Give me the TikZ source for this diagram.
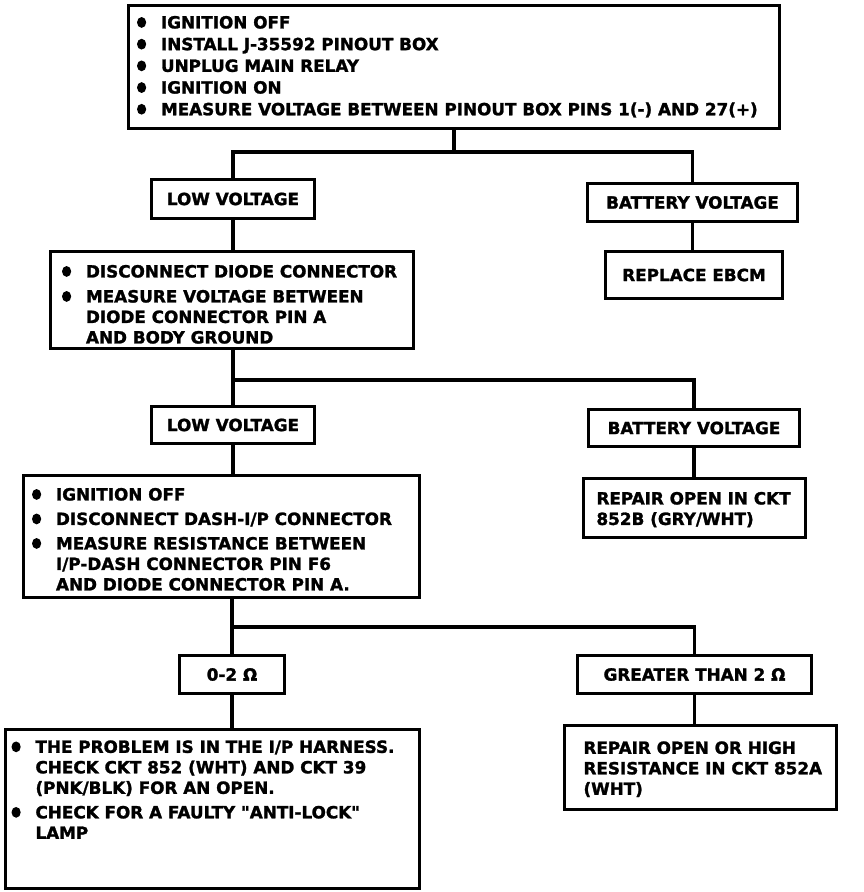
\documentclass[tikz,border=0pt]{standalone}
\usepackage{fontspec}
\setmainfont{DejaVu Sans}[Ligatures=TeXOff, BoldFeatures={FakeBold=1.5}]
\usetikzlibrary{calc}
\newcommand\bul{\makebox[24pt][l]{\tikz[baseline=-6pt]\fill (4.6pt,0pt) ellipse[x radius=4.6pt,y radius=5.4pt];}}
\newcommand\ind{\hspace*{24pt}}
\newcommand\tbox[5]{\parbox[c][#2pt][t]{#1pt}{\vspace*{#3pt}\hspace*{#4pt}\begin{tabular}[t]{@{}l@{}}#5\end{tabular}}}
\begin{document}
\begin{tikzpicture}[x=1pt,y=-1pt,
  bx/.style={draw, line width=3pt, inner sep=0pt, anchor=north west,
    font=\fontsize{16.8}{20.5}\selectfont\bfseries},
  lbl/.style={draw, line width=3pt, inner sep=0pt, anchor=north west, align=center,
    font=\fontsize{16.8}{20.5}\selectfont\bfseries},
  conn/.style={line width=3.5pt}]
\fill[white] (0,0) rectangle (864,892);
\useasboundingbox (0,0) rectangle (864,892);

% boxes
\node[bx] (top) at (127,4) {\tbox{651}{123}{8.6}{8.5}{%
  \bul IGNITION OFF\\[1.2pt]
  \bul INSTALL J-35592 PINOUT BOX\\[1.2pt]
  \bul UNPLUG MAIN RELAY\\[1.2pt]
  \bul IGNITION ON\\[1.2pt]
  \bul MEASURE VOLTAGE BETWEEN PINOUT BOX PINS 1(-) AND 27(+)}};

\node[lbl, minimum width=163pt, minimum height=39pt] (lv1) at (150,178) {LOW VOLTAGE};
\node[lbl, minimum width=210pt, minimum height=38pt] (bv1) at (586,182) {BATTERY VOLTAGE};
\node[lbl, minimum width=177pt, minimum height=47pt] (ebcm) at (604,250) {REPLACE EBCM};

\node[bx] (box2) at (49,250) {\tbox{363}{97}{11.6}{11.5}{%
  \bul DISCONNECT DIODE CONNECTOR\\[4.5pt]
  \bul MEASURE VOLTAGE BETWEEN\\
  \ind DIODE CONNECTOR PIN A\\
  \ind AND BODY GROUND}};

\node[lbl, minimum width=163pt, minimum height=37pt] (lv2) at (150,405) {LOW VOLTAGE};
\node[lbl, minimum width=211pt, minimum height=37pt] (bv2) at (587,408) {BATTERY VOLTAGE};

\node[bx] (rep1) at (582,477) {\tbox{222}{59}{11.6}{13}{%
  REPAIR OPEN IN CKT\\
  852B (GRY/WHT)}};

\node[bx] (box3) at (22,474) {\tbox{396}{122}{10.6}{8.5}{%
  \bul IGNITION OFF\\[4pt]
  \bul DISCONNECT DASH-I/P CONNECTOR\\[4pt]
  \bul MEASURE RESISTANCE BETWEEN\\
  \ind I/P-DASH CONNECTOR PIN F6\\
  \ind AND DIODE CONNECTOR PIN A.}};

\node[lbl, minimum width=105pt, minimum height=38pt] (ohm1) at (178,654) {0-2 Ω};
\node[lbl, minimum width=234pt, minimum height=38pt] (ohm2) at (576,654) {GREATER THAN 2 Ω};

\node[bx] (bl) at (4,728) {\tbox{414}{159}{9}{6}{%
  \bul THE PROBLEM IS IN THE I/P HARNESS.\\
  \ind CHECK CKT 852 (WHT) AND CKT 39\\
  \ind (PNK/BLK) FOR AN OPEN.\\[4pt]
  \bul CHECK FOR A FAULTY "ANTI-LOCK"\\
  \ind LAMP}};

\node[bx] (br) at (563,724) {\tbox{272}{84}{14}{19}{%
  REPAIR OPEN OR HIGH\\
  RESISTANCE IN CKT 852A\\
  (WHT)}};

% branch levels
\coordinate (b1) at (0,152);
\coordinate (b2) at (0,380);
\coordinate (b3) at (0,627);

% connectors
\draw[conn] (top.south) -- (top.south |- b1);
\draw[conn] (lv1.north) -- (lv1.north |- b1) -| (bv1.north);
\draw[conn] (bv1.south) -- (bv1.south |- ebcm.north);
\draw[conn] (lv1.south) -- (lv1.south |- box2.north);

\draw[conn] (lv2.north |- box2.south) -- (lv2.north);
\draw[conn] (lv2.north |- b2) -| (bv2.north);
\draw[conn] (bv2.south) -- (bv2.south |- rep1.north);
\draw[conn] (lv2.south) -- (lv2.south |- box3.north);

\draw[conn] (ohm1.north |- box3.south) -- (ohm1.north);
\draw[conn] (ohm1.north |- b3) -| (ohm2.north);
\draw[conn] (ohm1.south) -- (ohm1.south |- bl.north);
\draw[conn] (ohm2.south) -- (ohm2.south |- br.north);
\end{tikzpicture}
\end{document}
